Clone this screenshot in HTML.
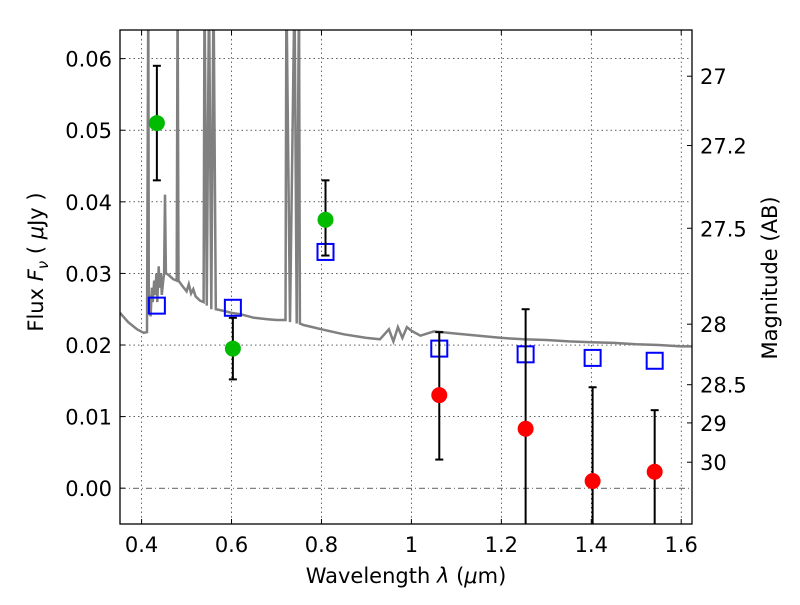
<!DOCTYPE html>
<html><head><meta charset="utf-8"><style>
body{margin:0;background:#fff}
text{font-family:"DejaVu Sans","Liberation Sans",sans-serif;font-size:21px;fill:#000}
</style></head><body>
<svg id="c" width="800" height="600" xmlns="http://www.w3.org/2000/svg"></svg>
<script>
const xTicks=[0.4,0.6,0.8,1.0,1.2,1.4,1.6];
const xTickLabels=["0.4","0.6","0.8","1","1.2","1.4","1.6"];
const yTicks=[0,0.01,0.02,0.03,0.04,0.05,0.06];
const yTickLabels=["0.00","0.01","0.02","0.03","0.04","0.05","0.06"];
const magTicks=[27,27.2,27.5,28,28.5,29,30];
const magTickLabels=["27","27.2","27.5","28","28.5","29","30"];
const specWave=[0.352,0.37,0.39,0.405,0.412,0.415,0.416,0.418,0.42,0.423,0.425,0.428,0.43,0.433,0.435,0.438,0.44,0.443,0.445,0.448,0.45,0.452,0.454,0.46,0.47,0.478,0.48,0.482,0.49,0.5,0.505,0.51,0.515,0.52,0.53,0.538,0.54,0.545,0.55,0.555,0.56,0.565,0.58,0.6,0.62,0.65,0.68,0.7,0.72,0.722,0.73,0.74,0.745,0.75,0.752,0.76,0.78,0.8,0.85,0.9,0.93,0.95,0.96,0.97,0.98,0.99,1.0,1.02,1.05,1.1,1.15,1.2,1.25,1.3,1.35,1.4,1.45,1.5,1.55,1.6,1.624];
const specFlux=[0.0245,0.0232,0.0222,0.0217,0.0218,0.07,0.025,0.027,0.024,0.028,0.026,0.029,0.027,0.03,0.026,0.031,0.028,0.03,0.027,0.029,0.03,0.041,0.03,0.0298,0.0292,0.029,0.07,0.029,0.0283,0.0275,0.0285,0.0272,0.0278,0.0268,0.0262,0.026,0.07,0.0255,0.07,0.025,0.07,0.025,0.0248,0.0245,0.0243,0.0238,0.0236,0.0235,0.0235,0.07,0.0232,0.07,0.023,0.07,0.023,0.0228,0.0225,0.0222,0.0215,0.021,0.0208,0.0222,0.0205,0.0225,0.021,0.0225,0.022,0.0213,0.0219,0.0216,0.0213,0.021,0.0208,0.0207,0.0205,0.0204,0.0203,0.0201,0.02,0.0198,0.0198];
const greenX=[0.434,0.603,0.809];
const greenY=[0.051,0.0195,0.0375];
const greenLo=[0.043,0.0152,0.0325];
const greenHi=[0.059,0.0238,0.043];
const blueX=[0.434,0.603,0.809,1.062,1.254,1.403,1.541];
const blueY=[0.0255,0.0252,0.033,0.0195,0.0187,0.0182,0.0178];
const redX=[1.062,1.254,1.403,1.541];
const redY=[0.013,0.0083,0.001,0.0023];
const redLo=[0.004,-0.006,-0.006,-0.006];
const redHi=[0.0218,0.025,0.0141,0.0109];

const L=120,R=692,T=30,B=524,X0=0.352,X1=1.624,Y0=-0.005,Y1=0.064;
const sx=v=>L+(v-X0)/(X1-X0)*(R-L);
const sy=v=>B-(v-Y0)/(Y1-Y0)*(B-T);
const NS="http://www.w3.org/2000/svg";
const svg=document.getElementById('c');
function mk(tag,attrs,parent){const e=document.createElementNS(NS,tag);for(const k in attrs)e.setAttribute(k,attrs[k]);(parent||svg).appendChild(e);return e;}
const clip=mk('clipPath',{id:'pc'});mk('rect',{x:L,y:T,width:R-L,height:B-T},clip);
const grid=mk('g',{});


xTicks.forEach((v,i)=>{const x=sx(v);
 mk('line',{x1:x,x2:x,y1:T,y2:B,stroke:'#000','stroke-width':0.6,'stroke-dasharray':'1.5,3'},grid);
 mk('line',{x1:x,x2:x,y1:B,y2:B-5,stroke:'#000'});mk('line',{x1:x,x2:x,y1:T,y2:T+5,stroke:'#000'});
 const t=mk('text',{x:x,y:B+28,'text-anchor':'middle'});t.textContent=xTickLabels[i];
 
 });
yTicks.forEach((v,i)=>{const y=sy(v);
 mk('line',{x1:L,x2:R,y1:y,y2:y,stroke:'#000','stroke-width':0.6,'stroke-dasharray':(v===0?'6,3,1,3':'1.5,3')},grid);
 mk('line',{x1:L,x2:L+5,y1:y,y2:y,stroke:'#000'});
 const t=mk('text',{x:L-8,y:y+8,'text-anchor':'end'});t.textContent=yTickLabels[i];
 
 });
magTicks.forEach((m,i)=>{const f=Math.pow(10,(23.9-m)/2.5);const y=sy(f);
 mk('line',{x1:R,x2:R-5,y1:y,y2:y,stroke:'#000'});
 const t=mk('text',{x:R+8,y:y+8,'text-anchor':'start'});t.textContent=magTickLabels[i];
 
 });
const plot=mk('g',{'clip-path':'url(#pc)'});
let d='';specWave.forEach((w,i)=>{d+=(i?'L':'M')+sx(w).toFixed(1)+','+sy(specFlux[i]).toFixed(1);});
const sp=mk('path',{d:d,fill:'none',stroke:'#808080','stroke-width':2.5},plot);


function eb(x,lo,hi){const px=sx(x);mk('line',{x1:px,x2:px,y1:sy(lo),y2:sy(hi),stroke:'#000','stroke-width':2},plot);
 [lo,hi].forEach(v=>{if(v>Y0)mk('line',{x1:px-4,x2:px+4,y1:sy(v),y2:sy(v),stroke:'#000','stroke-width':2},plot);});}
blueX.forEach((x,i)=>{const r=mk('rect',{x:sx(x)-8,y:sy(blueY[i])-8,width:16,height:16,fill:'none',stroke:'#0000ff','stroke-width':2},plot);
 
 });
greenX.forEach((x,i)=>{eb(x,greenLo[i],greenHi[i]);const c=mk('circle',{cx:sx(x),cy:sy(greenY[i]),r:8,fill:'#00bb00'},plot);
 
 });
redX.forEach((x,i)=>{eb(x,redLo[i],redHi[i]);const c=mk('circle',{cx:sx(x),cy:sy(redY[i]),r:8,fill:'#ff0000'},plot);
 
 });
const fr=mk('rect',{x:L,y:T,width:R-L,height:B-T,fill:'none',stroke:'#000','stroke-width':1.3});


const xt=mk('text',{x:406,y:583,'text-anchor':'middle'});
xt.innerHTML='Wavelength  <tspan font-style="italic">λ</tspan> (<tspan font-style="italic">μ</tspan>m)';


const yt=mk('text',{x:0,y:0,'text-anchor':'middle',transform:'translate(43,262) rotate(-90)'});
yt.innerHTML='Flux  <tspan font-style="italic">F</tspan><tspan font-style="italic" font-size="15" dy="5">ν</tspan><tspan dy="-5">  ( </tspan><tspan font-style="italic">μ</tspan>Jy )';


const mt=mk('text',{x:0,y:0,'text-anchor':'middle',transform:'translate(777,278) rotate(-90)'});mt.textContent='Magnitude (AB)';


</script>
</body></html>
